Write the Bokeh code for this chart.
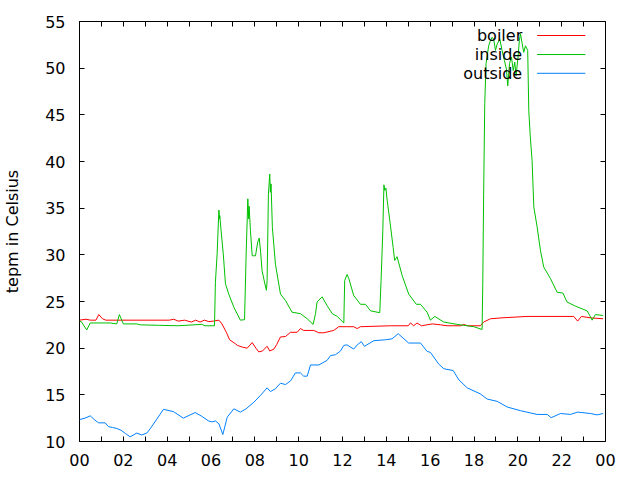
from bokeh.plotting import figure
from bokeh.models import Range1d, FixedTicker, LinearAxis, Label
from bokeh.embed import file_html
from bokeh.resources import INLINE

# ---- data (hours of day, temperature in Celsius) ----
boiler_hours = [0, 0.3, 0.5, 0.75, 0.88, 1.05, 1.2, 4.1, 4.3, 4.5, 4.8, 5.1, 5.3, 5.5, 5.7, 5.9, 6.1, 6.36,
                6.5, 6.7, 6.85, 7.1, 7.2, 7.45, 7.65, 7.88, 8.05, 8.18, 8.35, 8.56, 8.68, 8.87, 9.0, 9.17,
                9.4, 9.63, 9.93, 10.08, 10.23, 10.69, 10.92, 11.15, 11.6, 11.83, 12.51, 12.67, 12.82, 14.2,
                15.0, 15.1, 15.25, 15.4, 15.6, 16.1, 16.47, 16.77, 17.4, 17.53, 17.7, 18.29, 18.44, 18.75,
                19.28, 20.42, 22.55, 22.73, 22.9, 23.31, 23.89]
boiler_temp = [23.0, 23.1, 23.0, 23.0, 23.6, 23.15, 23.0, 23.0, 23.1, 22.9, 23.0, 22.8, 23.0, 22.8, 23.0, 22.85,
               22.9, 23.0, 22.6, 21.7, 20.9, 20.5, 20.3, 20.1, 20.0, 20.6, 20.0, 19.6, 19.7, 20.2, 19.7, 19.9,
               20.4, 21.2, 21.25, 21.7, 21.7, 22.1, 21.9, 21.9, 21.65, 21.65, 21.9, 22.3, 22.3, 22.1, 22.3,
               22.4, 22.4, 22.7, 22.4, 22.7, 22.4, 22.6, 22.5, 22.4, 22.4, 22.55, 22.4, 22.4, 22.8, 23.15,
               23.25, 23.4, 23.4, 22.9, 23.4, 23.25, 23.15]

inside_hours = [0, 0.08, 0.33, 0.49, 1.4, 1.7, 1.82, 2.0, 2.61, 2.77, 3.6, 4.5, 5.58, 5.73, 6.16, 6.2, 6.28,
                6.36, 6.39, 6.4, 6.46, 6.56, 6.66, 6.81, 7.04, 7.34, 7.53, 7.6, 7.68, 7.72, 7.74, 7.8, 7.88,
                8.03, 8.13, 8.2, 8.26, 8.33, 8.49, 8.53, 8.56, 8.62, 8.68, 8.71, 8.74, 8.8, 8.94, 9.17, 9.4,
                9.7, 10.08, 10.39, 10.66, 10.77, 10.84, 11.07, 11.3, 11.53, 11.76, 12.06, 12.1, 12.21, 12.29,
                12.51, 12.82, 13.05, 13.28, 13.7, 13.76, 13.84, 13.89, 13.93, 13.98, 14.04, 14.19, 14.31,
                14.38, 14.49, 14.72, 15.02, 15.37, 15.56, 15.86, 16.01, 16.21, 16.62, 17.23, 17.99, 18.37,
                18.4, 18.44, 18.49, 18.55, 18.67, 18.75, 18.83, 18.9, 18.98, 19.06, 19.18, 19.28, 19.39,
                19.48, 19.54, 19.62, 19.71, 19.79, 19.86, 19.92, 20.01, 20.07, 20.12, 20.2, 20.27, 20.35,
                20.45, 20.5, 20.57, 20.65, 20.73, 20.88, 21.03, 21.18, 21.49, 21.79, 22.06, 22.24, 22.63,
                23.16, 23.28, 23.39, 23.54, 23.89]
inside_temp = [22.85, 22.85, 21.95, 22.7, 22.7, 22.6, 23.6, 22.6, 22.6, 22.5, 22.45, 22.4, 22.55, 22.4, 22.4,
               27.0, 30.1, 34.8, 33.85, 34.2, 32.6, 30.1, 26.9, 25.8, 24.4, 23.0, 23.05, 29.75, 36.0, 33.85,
               35.2, 32.6, 29.9, 29.9, 31.35, 31.8, 30.4, 28.3, 26.55, 26.2, 27.25, 36.5, 38.65, 36.7, 37.6,
               32.95, 29.0, 25.8, 25.1, 23.85, 23.7, 23.15, 22.55, 23.7, 24.95, 25.5, 24.55, 23.7, 23.4, 22.7,
               27.25, 27.9, 27.45, 25.65, 24.7, 24.7, 24.0, 23.8, 27.25, 32.6, 37.5, 36.9, 37.15, 35.8, 33.1,
               30.8, 29.4, 29.8, 27.8, 25.8, 24.7, 24.7, 23.85, 23.0, 23.4, 22.8, 22.55, 22.3, 22.0,
               26.9, 36.5, 46.2, 50.5, 52.4, 52.95, 53.3, 53.1, 51.9, 52.6, 53.1, 51.9, 50.8,
               49.9, 48.1, 50.5, 51.2, 49.75, 50.65, 49.2, 51.2, 52.95, 53.7, 52.6, 51.7, 52.4,
               51.9, 45.45, 42.6, 40.1, 35.1, 33.0, 30.5, 28.7, 27.45, 26.0, 25.9, 24.95, 24.5,
               24.0, 23.5, 23.0, 23.6, 23.5]

outside_hours = [0, 0.25, 0.49, 0.7, 0.87, 1.17, 1.32, 1.5, 1.7, 1.9, 2.1, 2.31, 2.61, 2.84, 3.07, 3.22, 3.53,
                 3.83, 4.29, 4.74, 5.0, 5.28, 5.58, 5.89, 6.05, 6.2, 6.36, 6.54, 6.74, 7.04, 7.34, 7.6, 7.95,
                 8.26, 8.56, 8.71, 8.94, 9.17, 9.4, 9.63, 9.85, 10.08, 10.23, 10.39, 10.54, 10.92, 11.3, 11.45,
                 11.68, 11.91, 12.06, 12.21, 12.51, 12.67, 12.86, 13.0, 13.43, 13.96, 14.26, 14.54, 15.02,
                 15.56, 15.86, 16.01, 16.39, 16.62, 17.05, 17.31, 17.69, 18.29, 18.6, 19.06, 19.51, 20.12,
                 20.88, 21.34, 21.52, 21.95, 22.4, 22.73, 23.31, 23.62, 23.89]
outside_temp = [12.35, 12.5, 12.75, 12.3, 12.0, 12.0, 11.6, 11.5, 11.4, 11.2, 10.85, 10.5, 10.9, 10.7, 10.9,
                11.35, 12.4, 13.45, 13.2, 12.5, 12.8, 13.1, 12.7, 12.2, 12.1, 12.2, 11.9, 10.75, 12.6, 13.5,
                13.15, 13.5, 14.2, 14.95, 15.75, 15.35, 15.65, 16.25, 16.1, 16.5, 17.35, 17.35, 17.0, 17.0,
                18.2, 18.2, 18.7, 19.2, 19.3, 19.7, 20.3, 20.35, 19.9, 20.35, 20.7, 20.2, 20.8, 20.9, 21.0,
                21.55, 20.55, 20.55, 19.65, 19.55, 18.3, 17.8, 17.6, 16.6, 15.75, 15.1, 14.55, 14.3, 13.7,
                13.3, 12.9, 12.9, 12.55, 13.0, 12.9, 13.15, 13.0, 12.85, 13.0]

x_ticks = list(range(0, 25))
x_tick_labels = {h: ("%02d" % (h % 24) if h % 2 == 0 else "") for h in x_ticks}
y_ticks = [10, 15, 20, 25, 30, 35, 40, 45, 50, 55]

series_names = ["boiler", "inside", "outside"]
series_colors = ["#ff0000", "#00c000", "#0080ff"]

FONT = "DejaVu Sans"

p = figure(width=640, height=480, x_range=Range1d(0, 24), y_range=Range1d(10, 55),
           output_backend="svg", toolbar_location=None,
           min_border_left=79, min_border_right=35, min_border_top=21, min_border_bottom=39)
p.xgrid.visible = False
p.ygrid.visible = False
p.outline_line_color = "black"
p.outline_line_alpha = 1.0
p.outline_line_width = 1
p.background_fill_color = "white"
p.border_fill_color = "white"

xt = FixedTicker(ticks=x_ticks, minor_ticks=[])
yt = FixedTicker(ticks=y_ticks, minor_ticks=[])


def style(ax, ticker, labels=True):
    ax.ticker = ticker
    ax.axis_line_color = None
    ax.major_tick_in = 5
    ax.major_tick_out = 0
    ax.major_tick_line_color = "black"
    ax.minor_tick_in = 0
    ax.minor_tick_out = 0
    ax.major_label_text_font = FONT
    ax.major_label_text_font_size = "16px"
    if labels:
        ax.major_label_text_color = "black"
    else:
        ax.major_label_text_color = None
        ax.major_label_standoff = 0


xa = p.xaxis[0]
style(xa, xt)
xa.major_label_overrides = x_tick_labels
xa.major_label_standoff = 12

ya = p.yaxis[0]
style(ya, yt)
ya.major_label_standoff = 14
ya.axis_label = "tepm in Celsius"
ya.axis_label_text_font = FONT
ya.axis_label_text_font_size = "16px"
ya.axis_label_text_font_style = "normal"
ya.axis_label_text_color = "black"
ya.axis_label_standoff = 20

top = LinearAxis()
style(top, xt, labels=False)
p.add_layout(top, "above")
right = LinearAxis()
style(right, yt, labels=False)
p.add_layout(right, "right")

# legend (gnuplot style: label left, sample line right), positioned in plot coordinates
leg_text_x = 20.2
leg_line_x0, leg_line_x1 = 20.88, 23.08
leg_rows = [53.5, 51.46, 49.45]
for name, color, ly in zip(series_names, series_colors, leg_rows):
    p.add_layout(Label(x=leg_text_x, y=ly, text=name, text_align="right", text_baseline="middle",
                       text_font=FONT, text_font_size="16px", text_color="black"))
    p.segment(x0=[leg_line_x0], y0=[ly], x1=[leg_line_x1], y1=[ly], line_color=color, line_width=1)

for xs, ys, color in zip([boiler_hours, inside_hours, outside_hours],
                         [boiler_temp, inside_temp, outside_temp], series_colors):
    p.line(xs, ys, line_color=color, line_width=1)

open("out.html", "w").write(file_html(p, INLINE))
